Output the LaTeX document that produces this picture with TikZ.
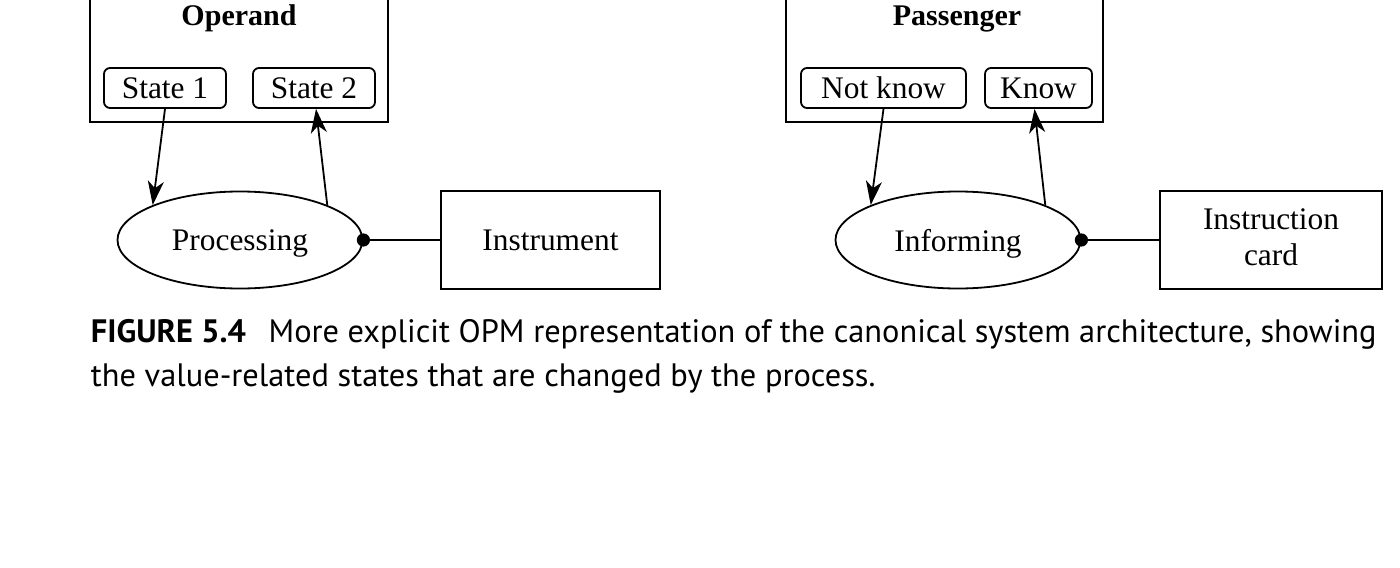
\documentclass[tikz,border=0pt]{standalone}
\usepackage{fontspec}
\setmainfont{Liberation Serif}
\newfontfamily\capfont{PT Sans}
\usetikzlibrary{shapes.geometric,arrows.meta}
\begin{document}
\begin{tikzpicture}[x=0.5pt,y=-0.5pt,line width=0.9pt,
 every node/.style={font=\fontsize{15.7}{18}\selectfont},
 objbox/.style={draw,rectangle,inner sep=0pt},
 titletext/.style={font=\fontsize{15}{18}\selectfont\bfseries,anchor=base},
 statebox/.style={draw,rounded corners=3pt,inner sep=0pt,minimum height=20pt},
 proc/.style={draw,ellipse,inner sep=0pt,text depth=0pt,minimum width=122.5pt,minimum height=48.5pt},
 link/.style={-{Stealth[length=12pt,width=8pt,inset=3.5pt]}},
 captext/.style={anchor=base west,inner sep=0pt,font=\capfont\fontsize{16.2}{19}\selectfont}
]
\useasboundingbox (0,0) rectangle (1400,567);
\clip (0,0) rectangle (1400,567);
% left
\node[objbox,minimum width=149pt,minimum height=66pt] (operand) at (239,56) {};
\node[titletext] (operandlbl) at (239,26) {Operand};
\node[statebox,minimum width=61pt] (s1) at (165,88) {State 1};
\node[statebox,minimum width=61pt] (s2) at (314,88) {State 2};
\node[proc] (proc) at (240,240) {Processing};
\node[objbox,text depth=0pt,minimum width=109.5pt,minimum height=49pt] (instr) at (550.5,240) {Instrument};
\draw[link] (s1.south) -- (proc.north west);
\draw[link] (proc.north east) -- ([xshift=1pt]s2.south);
\fill (proc.east) circle (3.3pt);
\draw (proc.east) -- (instr.west);
% right
\node[objbox,minimum width=158.5pt,minimum height=66pt] (pass) at (944.5,56) {};
\node[titletext] (passlbl) at (957,26) {Passenger};
\node[statebox,minimum width=82.5pt] (nk) at (883.5,88) {Not know};
\node[statebox,minimum width=53.5pt] (kn) at (1038.5,88) {Know};
\node[proc] (inf) at (958,240) {Informing};
\node[objbox,minimum width=111pt,minimum height=49pt,align=center,font=\fontsize{15.7}{18}\selectfont] (card) at (1271,240) {Instruction\\card\vphantom{p}};
\draw[link] (nk.south) -- (inf.north west);
\draw[link] (inf.north east) -- ([xshift=-2pt]kn.south);
\fill (inf.east) circle (3.3pt);
\draw (inf.east) -- (card.west);
% caption
\node[captext] (cap1) at (90,342) {\textbf{FIGURE 5.4}\hspace{7pt} More explicit OPM representation of the canonical system architecture, showing};
\node[captext] (cap2) at (90,386) {the value-related states that are changed by the process.};
\end{tikzpicture}
\end{document}
